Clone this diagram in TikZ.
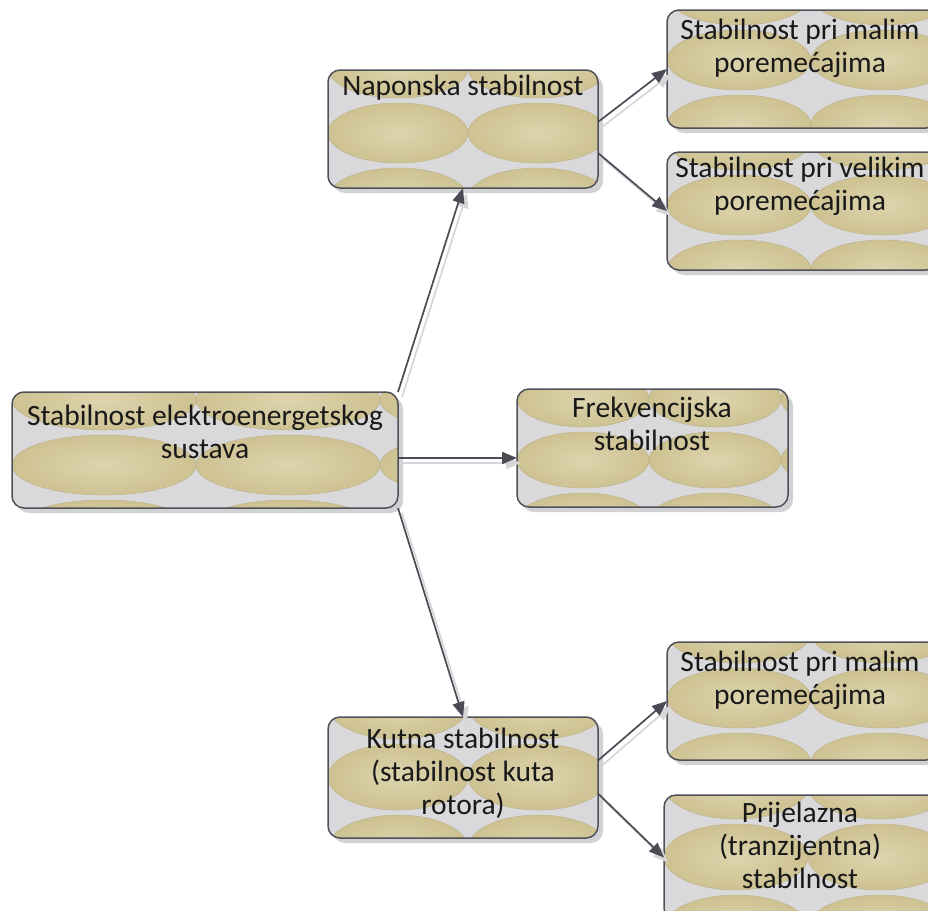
\documentclass[tikz,border=0pt]{standalone}
\usepackage{fontspec}
\setmainfont{Carlito}
\usetikzlibrary{arrows.meta}
\definecolor{boxbg}{HTML}{D9D9DB}
\definecolor{tanout}{HTML}{CEC292}
\definecolor{tanin}{HTML}{DDD4AE}
\definecolor{tanline}{HTML}{BDB48C}
\definecolor{frame}{HTML}{505058}
\definecolor{shadowc}{HTML}{D2D2D4}
\definecolor{conc}{HTML}{4B4B55}
\definecolor{conshc}{HTML}{D6D6D8}
\tikzset{
  boxframe/.style={draw=frame, line width=1.5pt, rounded corners=12pt, inner sep=0pt, outer sep=0pt, rectangle},
  tile/.style={inner color=tanin, outer color=tanout},
  tileedge/.style={draw=tanline, line width=0.5pt},
  lbl/.style={font=\fontsize{29.5}{33}\selectfont, align=center, inner sep=0pt, text=black!90},
  con/.style={draw=conc, line width=1.7pt, -{Triangle[length=15pt,width=12pt]}},
  consh/.style={draw=conshc, line width=1.7pt, -{Triangle[length=15pt,width=12pt]}, transform canvas={xshift=4pt,yshift=-5pt}}
}
% #1 name, #2 x1, #3 y1, #4 x2, #5 y2, #6 rx, #7 ry, #8 ymid
\newcommand\tilebox[8]{%
  \fill[shadowc, rounded corners=12pt] ({#2+5},{#3+5}) rectangle ({#4+5},{#5+5});
  \begin{scope}
    \clip[rounded corners=12pt] (#2,#3) rectangle (#4,#5);
    \fill[boxbg] (#2,#3) rectangle (#4,#5);
    \foreach \r in {-1,0,1} {
      \foreach \c in {0,1,2,3} {
        \shade[tile] ({#2+#6+2*#6*\c},{#8+\r*(2*#7+5)}) ellipse [x radius=#6, y radius=#7];
        \draw[tileedge] ({#2+#6+2*#6*\c},{#8+\r*(2*#7+5)}) ellipse [x radius=#6, y radius=#7];
      }
    }
  \end{scope}
  \node[boxframe, minimum width={#4-#2}, minimum height={#5-#3}] (#1) at ({(#2+#4)/2},{(#3+#5)/2}) {};
}
\begin{document}
\begin{tikzpicture}[x=1pt,y=-1pt]
\useasboundingbox (0,0) rectangle (928,910);
\clip (0,0) rectangle (928,910);
\fill[white] (0,0) rectangle (928,910);

\tilebox{root}{12}{392}{398}{508}{92}{30}{465}
\tilebox{nap}{328}{70}{598}{188}{70}{30}{133}
\tilebox{frek}{517}{389}{788}{507}{66}{28}{460}
\tilebox{kut}{328}{717}{598}{838}{70}{33}{777}
\tilebox{tra}{667}{10}{938}{128}{72}{30}{60}
\tilebox{trb}{667}{152}{938}{270}{72}{30}{205}
\tilebox{bra}{667}{642}{938}{760}{72}{30}{698}
\tilebox{brb}{664}{795}{938}{920}{72}{33}{857}

\node[lbl, anchor=north] (rootT) at (205,405) {Stabilnost elektroenergetskog\\sustava};
\node[lbl, anchor=north] (napT) at (463,75) {Naponska stabilnost};
\node[lbl, anchor=north] (frekT) at (652,397) {Frekvencijska\\stabilnost};
\node[lbl, anchor=north] (kutT) at (463,728) {Kutna stabilnost\\(stabilnost kuta\\rotora)};
\node[lbl, anchor=north] (traT) at (800,19) {Stabilnost pri malim\\poremećajima};
\node[lbl, anchor=north] (trbT) at (800,157) {Stabilnost pri velikim\\poremećajima};
\node[lbl, anchor=north] (braT) at (800,651) {Stabilnost pri malim\\poremećajima};
\node[lbl, anchor=north] (brbT) at (800,802) {Prijelazna\\(tranzijentna)\\stabilnost};

% connector shadows
\draw[consh] (root.north east) -- (nap.south);
\draw[consh] ([yshift=-8pt]root.east) -- ([yshift=-10pt]frek.west);
\draw[consh] (root.south east) -- (kut.north);
\draw[consh] ([yshift=7pt]nap.east) -- (tra.west);
\draw[consh] ([yshift=-24pt]nap.east) -- (trb.west);
\draw[consh] ([yshift=17pt]kut.east) -- (bra.west);
\draw[consh] ([yshift=-16pt]kut.east) -- (brb.west);
% connectors
\draw[con] (root.north east) -- (nap.south);
\draw[con] ([yshift=-8pt]root.east) -- ([yshift=-10pt]frek.west);
\draw[con] (root.south east) -- (kut.north);
\draw[con] ([yshift=7pt]nap.east) -- (tra.west);
\draw[con] ([yshift=-24pt]nap.east) -- (trb.west);
\draw[con] ([yshift=17pt]kut.east) -- (bra.west);
\draw[con] ([yshift=-16pt]kut.east) -- (brb.west);
\end{tikzpicture}
\end{document}
